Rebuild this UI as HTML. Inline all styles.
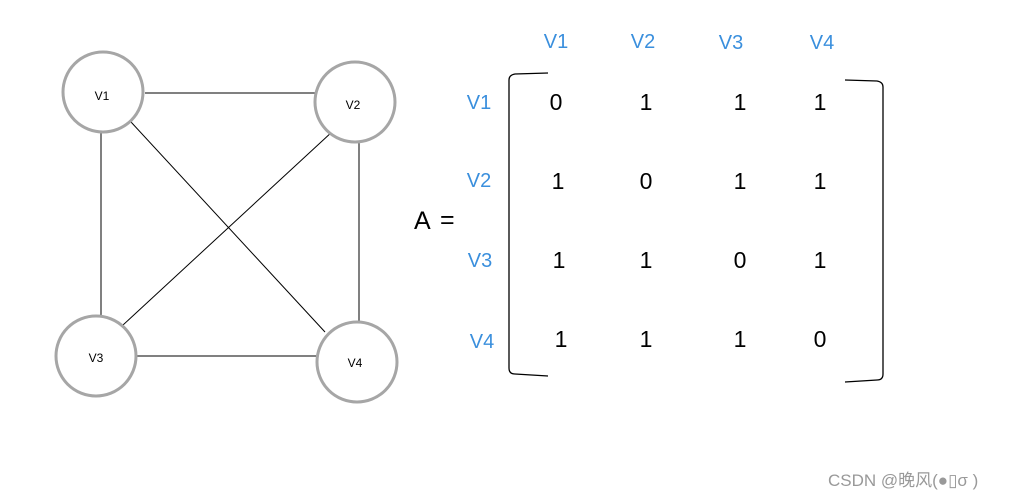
<!DOCTYPE html>
<html><head><meta charset="utf-8"><style>body{margin:0;background:#fff}svg{display:block}</style></head><body>
<svg width="1011" height="499" viewBox="0 0 1011 499" xmlns="http://www.w3.org/2000/svg" font-family="Liberation Sans, DejaVu Sans, sans-serif">
<g stroke="#000" stroke-width="1">
<line x1="145" y1="93" x2="315" y2="93"/>
<line x1="101" y1="132" x2="101" y2="316"/>
<line x1="131" y1="122" x2="325" y2="332"/>
<line x1="333" y1="131" x2="123" y2="325"/>
<line x1="359" y1="142" x2="359" y2="321"/>
<line x1="137" y1="356" x2="317" y2="356"/>
</g>
<g fill="#fff" stroke="#a6a6a6" stroke-width="3">
<circle cx="103" cy="92" r="40"/><circle cx="355" cy="102" r="40"/>
<circle cx="96" cy="356" r="40"/><circle cx="357" cy="362" r="40"/>
</g>
<g font-size="12" text-anchor="middle" fill="#000">
<text x="102" y="100">V1</text><text x="353" y="109">V2</text>
<text x="96" y="362">V3</text><text x="355" y="367">V4</text>
</g>
<g font-size="20" text-anchor="middle" fill="#3a8fdd">
<text x="556" y="48">V1</text><text x="643" y="48">V2</text><text x="731" y="49">V3</text><text x="822" y="49">V4</text>
<text x="479" y="109">V1</text><text x="479" y="187">V2</text><text x="480" y="267">V3</text><text x="482" y="348">V4</text>
</g>
<text x="414" y="229" font-size="25" fill="#000">A</text>
<text x="440" y="228" font-size="25" fill="#000">=</text>
<g font-size="23" text-anchor="middle" fill="#000">
<text x="556" y="110">0</text><text x="646" y="110">1</text><text x="740" y="110">1</text><text x="820" y="110">1</text>
<text x="558" y="189">1</text><text x="646" y="189">0</text><text x="740" y="189">1</text><text x="820" y="189">1</text>
<text x="559" y="268">1</text><text x="646" y="268">1</text><text x="740" y="268">0</text><text x="820" y="268">1</text>
<text x="561" y="347">1</text><text x="646" y="347">1</text><text x="740" y="347">1</text><text x="820" y="347">0</text>
</g>
<g fill="none" stroke="#000" stroke-width="1.3">
<path d="M548 73 L515 74 Q509 75 509 80 L509 368 Q509 374 515 374 L548 376"/>
<path d="M845 80 L877 81 Q883 82 883 87 L883 374 Q883 380 877 380 L845 382"/>
</g>
<text x="828" y="486" font-size="17" fill="#999" font-family="Liberation Sans, Noto Sans CJK SC, sans-serif">CSDN @晚风(●▯σ )</text>
</svg>
</body></html>
